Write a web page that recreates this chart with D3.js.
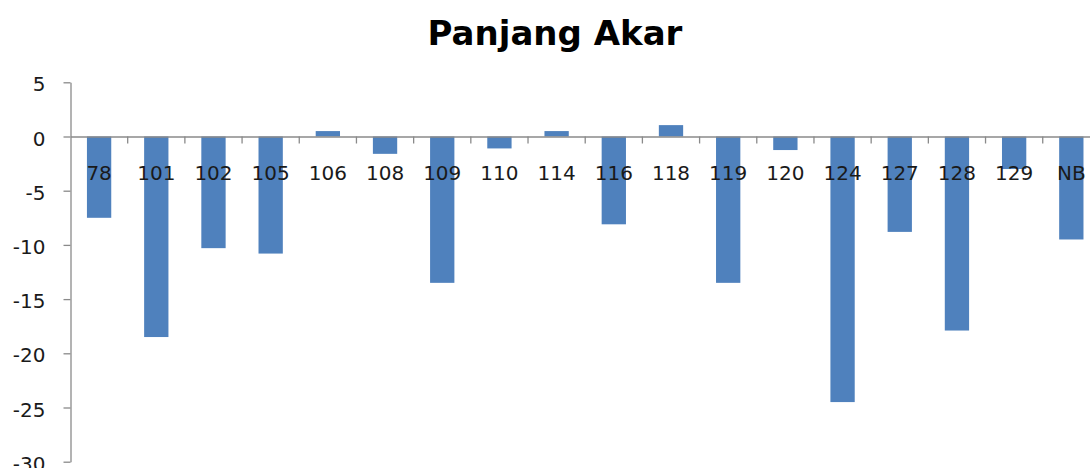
<!DOCTYPE html>
<html>
<head>
<meta charset="utf-8">
<script src="https://cdn.jsdelivr.net/npm/d3@7"></script>
<style>
  html, body { margin: 0; padding: 0; background: #fff; overflow: hidden; }
  svg { display: block; }
</style>
</head>
<body>
<svg id="chart" width="1090" height="468"></svg>
<script>
const categories = ["78","101","102","105","106","108","109","110","114","116","118","119","120","124","127","128","129","NB"];
const values = [-7.5,-18.5,-10.3,-10.8,0.5,-1.6,-13.5,-1.1,0.5,-8.1,1.05,-13.5,-1.25,-24.5,-8.8,-17.9,-3.0,-9.5];
const yTicks = [5,0,-5,-10,-15,-20,-25,-30];
const chartTitle = "Panjang Akar";

const svg = d3.select("#chart");
const left = 70.5, step = 57.19;
const x = d3.scaleBand().domain(categories).range([left, left + categories.length * step]).padding(0);
const y = d3.scaleLinear().domain([-30, 5]).range([461.7, 82.3]);
const barW = x.bandwidth() * 0.425;
const axisColor = "#8a8a8a";
const textColor = "#1a1a1a";

// title
svg.append("text")
  .attr("x", 555).attr("y", 45)
  .attr("text-anchor", "middle")
  .attr("font-family", "DejaVu Sans")
  .attr("font-weight", "bold")
  .attr("font-size", 34)
  .attr("fill", "#000")
  .text(chartTitle);

// bars
svg.append("g").selectAll("rect")
  .data(categories.map((c, i) => ({c, v: values[i]})))
  .join("rect")
  .attr("x", d => x(d.c) + (x.bandwidth() - barW) / 2)
  .attr("width", barW)
  .attr("y", d => y(Math.max(0, d.v)))
  .attr("height", d => Math.abs(y(d.v) - y(0)))
  .attr("fill", "#4F81BD");

// y axis
const yAxis = svg.append("g")
  .attr("transform", `translate(${left},0)`)
  .call(d3.axisLeft(y).tickValues(yTicks).tickFormat(d => String(d))
    .tickSize(7).tickSizeOuter(0).tickPadding(18));
yAxis.select(".domain").attr("stroke", axisColor).attr("stroke-width", 1.3);
yAxis.selectAll(".tick line").attr("stroke", axisColor).attr("stroke-width", 1.3);
yAxis.selectAll(".tick text")
  .attr("font-family", "DejaVu Sans").attr("font-size", 20)
  .attr("fill", textColor).attr("dy", "0.43em");

// x axis (labels)
const xAxis = svg.append("g")
  .attr("transform", `translate(0,${y(0)})`)
  .call(d3.axisBottom(x).tickSize(0).tickSizeOuter(0).tickPadding(29));
xAxis.select(".domain").attr("stroke", axisColor).attr("stroke-width", 1.3);
xAxis.selectAll(".tick text")
  .attr("font-family", "DejaVu Sans").attr("font-size", 20)
  .attr("fill", textColor);

// x boundary tick marks
xAxis.append("g").selectAll("line")
  .data(categories.slice(1))
  .join("line")
  .attr("x1", d => x(d)).attr("x2", d => x(d))
  .attr("y1", 0).attr("y2", 7)
  .attr("stroke", axisColor).attr("stroke-width", 1.3);
</script>
</body>
</html>
